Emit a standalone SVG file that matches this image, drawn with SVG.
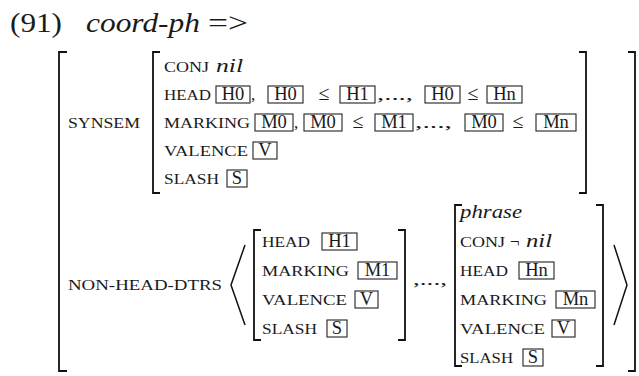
<svg xmlns="http://www.w3.org/2000/svg" width="639" height="376" viewBox="0 0 639 376">
<style>
text{font-family:"Liberation Serif","Times New Roman",serif;fill:#1a1a1a}
.t{font-size:28px}
.sc{font-size:15px}
.it{font-style:italic;font-size:18px}
.bv{font-size:18.5px;text-anchor:middle}
.op{font-size:17px}
.opm{font-size:20px;text-anchor:middle}
.bx{fill:none;stroke:#222;stroke-width:1.1}
.br{fill:none;stroke:#111;stroke-width:1.8}
.ang{fill:none;stroke:#111;stroke-width:1.5}
</style>
<rect width="639" height="376" fill="#fff"/>
<g id="title">
<text class="t" x="10" y="32" textLength="52" lengthAdjust="spacingAndGlyphs">(91)</text>
<text class="t" x="86" y="32" font-style="italic" textLength="114" lengthAdjust="spacingAndGlyphs">coord-ph</text>
<text class="t" x="208" y="32" textLength="40" lengthAdjust="spacingAndGlyphs">=&gt;</text>
</g>
<g id="outer-avm">
<path class="br" d="M67,52H59V371H67"/>
<path class="br" d="M628,52H635V371H628"/>
<text class="sc" x="68" y="128" textLength="72" lengthAdjust="spacingAndGlyphs">SYNSEM</text>
<text class="sc" x="68" y="290" textLength="154" lengthAdjust="spacingAndGlyphs">NON-HEAD-DTRS</text>
</g>
<g id="synsem-avm">
<path class="br" d="M160,52H153V193H160"/>
<path class="br" d="M579,52H586V193H579"/>
<text class="sc" x="164" y="71.5" textLength="45" lengthAdjust="spacingAndGlyphs">CONJ</text>
<text class="it" x="216" y="71.5" textLength="27" lengthAdjust="spacingAndGlyphs">nil</text>
<text class="sc" x="164" y="99.5" textLength="47" lengthAdjust="spacingAndGlyphs">HEAD</text>
<rect class="bx" x="216" y="86" width="34" height="17"/><text class="bv" x="233" y="99.5">H0</text>
<text class="op" x="251" y="99.5">,</text>
<rect class="bx" x="268" y="86" width="35" height="17"/><text class="bv" x="285.5" y="99.5">H0</text>
<text class="opm" x="324" y="99.5">≤</text>
<rect class="bx" x="340" y="86" width="35" height="17"/><text class="bv" x="357.5" y="99.5">H1</text>
<text class="op" x="377" y="99.5" textLength="36" lengthAdjust="spacingAndGlyphs">,...,</text>
<rect class="bx" x="425" y="86" width="35" height="17"/><text class="bv" x="442.5" y="99.5">H0</text>
<text class="opm" x="473" y="99.5">≤</text>
<rect class="bx" x="487" y="86" width="35" height="17"/><text class="bv" x="504.5" y="99.5">Hn</text>
<text class="sc" x="164" y="127.5" textLength="86" lengthAdjust="spacingAndGlyphs">MARKING</text>
<rect class="bx" x="255" y="114" width="38" height="17"/><text class="bv" x="274" y="127.5">M0</text>
<text class="op" x="294" y="127.5">,</text>
<rect class="bx" x="304" y="114" width="38" height="17"/><text class="bv" x="323" y="127.5">M0</text>
<text class="opm" x="358" y="127.5">≤</text>
<rect class="bx" x="375" y="114" width="38" height="17"/><text class="bv" x="394" y="127.5">M1</text>
<text class="op" x="415" y="127.5" textLength="37" lengthAdjust="spacingAndGlyphs">,...,</text>
<rect class="bx" x="465" y="114" width="38" height="17"/><text class="bv" x="484" y="127.5">M0</text>
<text class="opm" x="518" y="127.5">≤</text>
<rect class="bx" x="536" y="114" width="40" height="17"/><text class="bv" x="556" y="127.5">Mn</text>
<text class="sc" x="164" y="155.5" textLength="84" lengthAdjust="spacingAndGlyphs">VALENCE</text>
<rect class="bx" x="253" y="142" width="24" height="17"/><text class="bv" x="265" y="155.5">V</text>
<text class="sc" x="164" y="183.5" textLength="55" lengthAdjust="spacingAndGlyphs">SLASH</text>
<rect class="bx" x="227" y="170" width="20" height="17"/><text class="bv" x="237" y="183.5">S</text>
</g>
<g id="dtrs-list">
<polyline class="ang" points="245,245 231,285 245,325"/>
<polyline class="ang" points="614,245 627,285 614,325"/>
<text class="op" x="413" y="285" textLength="34" lengthAdjust="spacingAndGlyphs">,...,</text>
</g>
<g id="dtr-1">
<path class="br" d="M261,230H254V340H261"/>
<path class="br" d="M398,230H405V340H398"/>
<text class="sc" x="262" y="246.5" textLength="48" lengthAdjust="spacingAndGlyphs">HEAD</text>
<rect class="bx" x="322" y="233" width="35" height="17"/><text class="bv" x="339.5" y="246.5">H1</text>
<text class="sc" x="262" y="275.5" textLength="87" lengthAdjust="spacingAndGlyphs">MARKING</text>
<rect class="bx" x="358" y="262" width="39" height="17"/><text class="bv" x="377.5" y="275.5">M1</text>
<text class="sc" x="262" y="304.5" textLength="85" lengthAdjust="spacingAndGlyphs">VALENCE</text>
<rect class="bx" x="355" y="291" width="23" height="17"/><text class="bv" x="366.5" y="304.5">V</text>
<text class="sc" x="262" y="333.5" textLength="55" lengthAdjust="spacingAndGlyphs">SLASH</text>
<rect class="bx" x="327" y="320" width="20" height="17"/><text class="bv" x="337" y="333.5">S</text>
</g>
<g id="dtr-n">
<path class="br" d="M462,205H455V366H462"/>
<path class="br" d="M596,205H603V366H596"/>
<text class="it" x="460" y="217.5" textLength="62" lengthAdjust="spacingAndGlyphs">phrase</text>
<text class="sc" x="460" y="246.5" textLength="45" lengthAdjust="spacingAndGlyphs">CONJ</text>
<text class="op" x="510" y="246.5">¬</text>
<text class="it" x="526" y="246.5" textLength="26" lengthAdjust="spacingAndGlyphs">nil</text>
<text class="sc" x="460" y="275.5" textLength="48" lengthAdjust="spacingAndGlyphs">HEAD</text>
<rect class="bx" x="519" y="262" width="35" height="17"/><text class="bv" x="536.5" y="275.5">Hn</text>
<text class="sc" x="460" y="304.5" textLength="87" lengthAdjust="spacingAndGlyphs">MARKING</text>
<rect class="bx" x="556" y="291" width="39" height="17"/><text class="bv" x="575.5" y="304.5">Mn</text>
<text class="sc" x="460" y="333.5" textLength="85" lengthAdjust="spacingAndGlyphs">VALENCE</text>
<rect class="bx" x="552" y="320" width="23" height="17"/><text class="bv" x="563.5" y="333.5">V</text>
<text class="sc" x="460" y="362.5" textLength="53" lengthAdjust="spacingAndGlyphs">SLASH</text>
<rect class="bx" x="523" y="349" width="20" height="17"/><text class="bv" x="533" y="362.5">S</text>
</g>
</svg>
